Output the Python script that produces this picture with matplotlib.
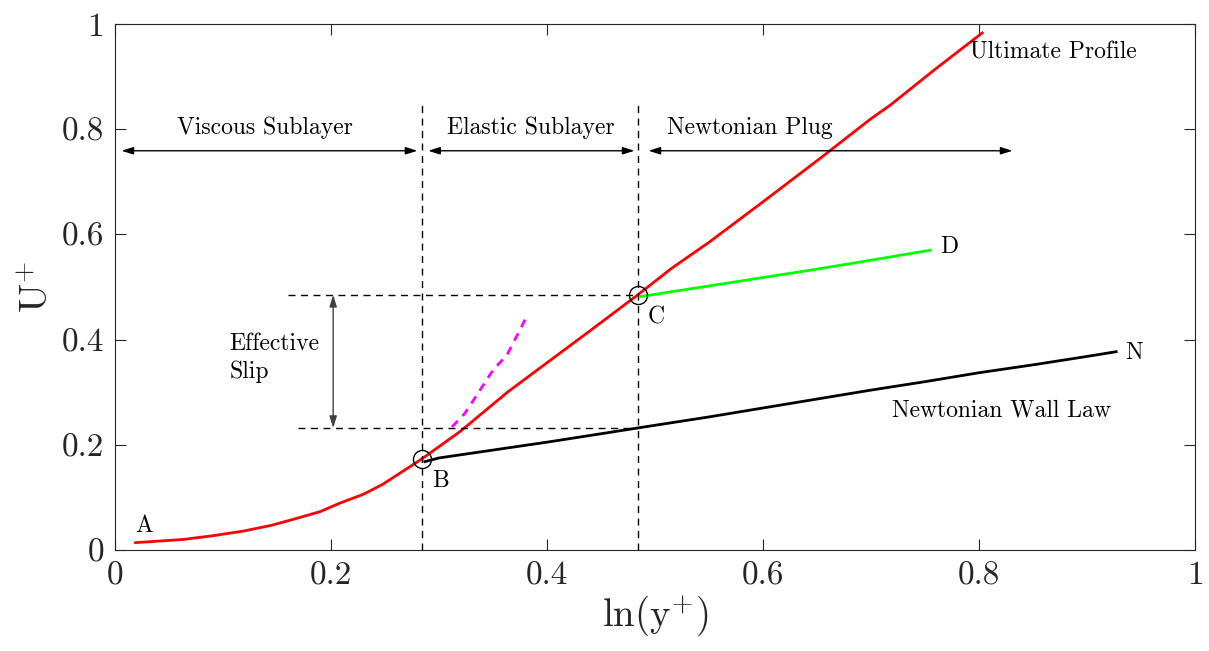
import matplotlib
matplotlib.use("Agg")
import matplotlib.pyplot as plt
import numpy as np

plt.rcParams["font.family"] = "serif"
plt.rcParams["font.serif"] = ["cmr10", "DejaVu Serif"]
plt.rcParams["mathtext.fontset"] = "cm"
plt.rcParams["axes.formatter.use_mathtext"] = True

# ultimate profile (red)
red_x = [0.019, 0.063, 0.090, 0.119, 0.145, 0.168, 0.190, 0.208, 0.230, 0.248,
         0.284, 0.320, 0.364, 0.400, 0.440, 0.484, 0.515, 0.550, 0.600, 0.650,
         0.700, 0.718, 0.760, 0.803]
red_y = [0.014, 0.020, 0.027, 0.036, 0.047, 0.060, 0.073, 0.089, 0.106, 0.125,
         0.173, 0.226, 0.301, 0.356, 0.417, 0.485, 0.535, 0.585, 0.662, 0.740,
         0.820, 0.846, 0.915, 0.983]
# Newtonian wall law (black)
blk_x = [0.287, 0.300, 0.350, 0.400, 0.450, 0.484, 0.550, 0.600, 0.650, 0.700,
         0.750, 0.800, 0.850, 0.900, 0.927]
blk_y = [0.168, 0.175, 0.190, 0.205, 0.221, 0.232, 0.253, 0.270, 0.287, 0.304,
         0.320, 0.337, 0.352, 0.368, 0.377]
# Newtonian plug branch (green)
grn_x = [0.487, 0.550, 0.600, 0.650, 0.700, 0.755]
grn_y = [0.482, 0.502, 0.518, 0.534, 0.551, 0.570]
# elastic sublayer branch (magenta dashed)
mag_x = [0.312, 0.324, 0.350, 0.363, 0.380]
mag_y = [0.234, 0.260, 0.342, 0.371, 0.439]

xB, yB = 0.284, 0.173
xC, yC = 0.484, 0.485
slip_lo = 0.232
y_arrow = 0.759

fig = plt.figure(figsize=(12.09, 6.51), dpi=100)
ax = fig.add_axes([115/1209, 1 - 550/651, 1080/1209, 526/651])

ax.plot(red_x, red_y, color="red", lw=2)
ax.plot(blk_x, blk_y, color="black", lw=2)
ax.plot(grn_x, grn_y, color="#00ff00", lw=2)
ax.plot(mag_x, mag_y, color="magenta", lw=2, ls=(0, (3, 2.5)))

dash = dict(color="black", lw=1, ls=(0, (5, 4)))
ax.plot([xB, xB], [0, 0.855], **dash)
ax.plot([xC, xC], [0, 0.855], **dash)
ax.plot([0.160, xC], [yC, yC], **dash)
ax.plot([0.169, xC], [slip_lo, slip_lo], **dash)

ax.plot([xB, xC], [yB, yC], "o", ms=13, mfc="none", mec="black", mew=1)

arr = dict(arrowstyle="<|-|>,head_length=0.7,head_width=0.22", color="black",
           lw=1, shrinkA=0, shrinkB=0)
for x0, x1 in [(0.006, 0.280), (0.290, 0.481), (0.494, 0.831)]:
    ax.annotate("", xy=(x1, y_arrow), xytext=(x0, y_arrow), arrowprops=arr)
ax.annotate("", xy=(0.202, slip_lo), xytext=(0.202, yC),
            arrowprops=dict(arr, color="#404040"))

fs = 17
ax.text(0.139, 0.802, "Viscous Sublayer", ha="center", va="center", fontsize=fs)
ax.text(0.385, 0.802, "Elastic Sublayer", ha="center", va="center", fontsize=fs)
ax.text(0.588, 0.802, "Newtonian Plug", ha="center", va="center", fontsize=fs)
ax.text(0.106, 0.365, "Effective\nSlip", ha="left", va="center", fontsize=fs,
        linespacing=1.3)
ax.text(0.792, 0.945, "Ultimate Profile", ha="left", va="center", fontsize=fs)
ax.text(0.719, 0.265, "Newtonian Wall Law", ha="left", va="center", fontsize=fs)
for s, x, y in [("A", 0.027, 0.045), ("B", 0.301, 0.132), ("C", 0.501, 0.443),
                ("D", 0.772, 0.577), ("N", 0.944, 0.375)]:
    ax.text(x, y, s, ha="center", va="center", fontsize=fs)

ax.set_xlim(0, 1)
ax.set_ylim(0, 1)
ax.set_xticks(np.arange(0, 1.01, 0.2))
ax.set_yticks(np.arange(0, 1.01, 0.2))
ax.set_xticklabels(["0", "0.2", "0.4", "0.6", "0.8", "1"])
ax.set_yticklabels(["0", "0.2", "0.4", "0.6", "0.8", "1"])
ax.tick_params(direction="in", length=8, width=0.8, top=True, right=True,
               labelsize=24, colors="#262626", pad=8)
for sp in ax.spines.values():
    sp.set_color("#262626")
    sp.set_linewidth(0.8)
ax.set_xlabel(r"ln(y$^{+}$)", fontsize=28, color="#262626", labelpad=2)
ax.set_ylabel(r"U$^{+}$", fontsize=28, color="#262626", labelpad=4)

fig.savefig("out.png", dpi=100)
